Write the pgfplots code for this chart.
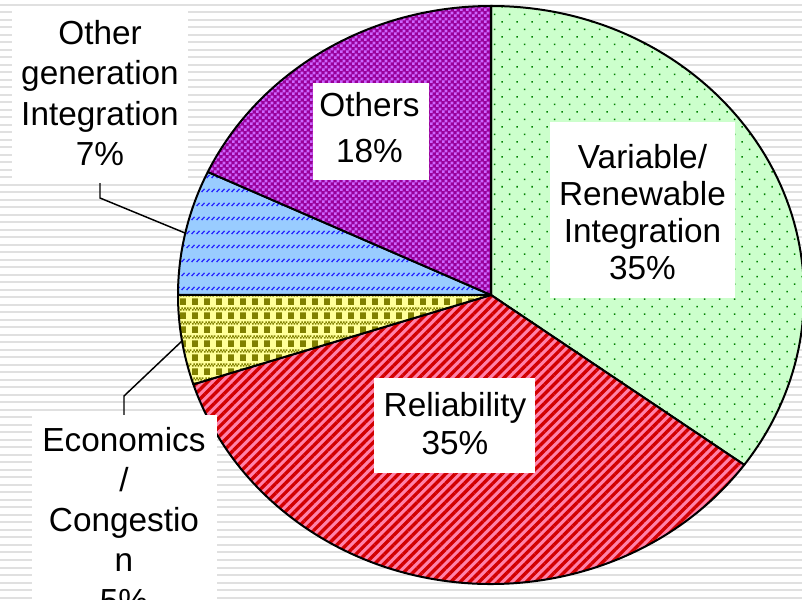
\documentclass[border=0pt]{standalone}
\usepackage{pgfplots}
\pgfplotsset{compat=1.18}
\usepackage{pgfplotstable}
\usepackage{fontspec}
\setmainfont{Liberation Sans}
\usetikzlibrary{patterns,patterns.meta}

\definecolor{greenbg}{RGB}{204,255,204}
\definecolor{greenfg}{RGB}{0,128,0}
\definecolor{pinkbg}{RGB}{255,130,170}
\definecolor{redfg}{RGB}{210,0,0}
\definecolor{yellowbg}{RGB}{255,255,153}
\definecolor{olivefg}{RGB}{128,128,0}
\definecolor{bluebg}{RGB}{153,204,255}
\definecolor{bluefg}{RGB}{40,40,255}
\definecolor{purplebg}{RGB}{153,0,153}
\definecolor{violetfg}{RGB}{204,102,255}
\definecolor{bgline}{RGB}{224,224,224}

\pgfdeclarepattern{
  name=olivecheck, type=uncolored,
  bottom left={\pgfqpoint{0pt}{0pt}},
  top right={\pgfqpoint{9pt}{10.5pt}},
  tile size={\pgfqpoint{9pt}{10.5pt}},
  code={
    \pgfpathrectangle{\pgfqpoint{0pt}{0pt}}{\pgfqpoint{4.8pt}{5.2pt}}
    \pgfpathrectangle{\pgfqpoint{0pt}{6.6pt}}{\pgfqpoint{1.3pt}{1.3pt}}
    \pgfpathrectangle{\pgfqpoint{2.25pt}{6.6pt}}{\pgfqpoint{1.3pt}{1.3pt}}
    \pgfpathrectangle{\pgfqpoint{4.5pt}{6.6pt}}{\pgfqpoint{1.3pt}{1.3pt}}
    \pgfpathrectangle{\pgfqpoint{6.75pt}{6.6pt}}{\pgfqpoint{1.3pt}{1.3pt}}
    \pgfpathrectangle{\pgfqpoint{1.125pt}{7.9pt}}{\pgfqpoint{1.3pt}{1.3pt}}
    \pgfpathrectangle{\pgfqpoint{3.375pt}{7.9pt}}{\pgfqpoint{1.3pt}{1.3pt}}
    \pgfpathrectangle{\pgfqpoint{5.625pt}{7.9pt}}{\pgfqpoint{1.3pt}{1.3pt}}
    \pgfpathrectangle{\pgfqpoint{7.875pt}{7.9pt}}{\pgfqpoint{1.3pt}{1.3pt}}
    \pgfusepath{fill}
  }
}
\pgfdeclarepattern{
  name=bluedash, type=uncolored,
  bottom left={\pgfqpoint{0pt}{0pt}},
  top right={\pgfqpoint{4pt}{10.5pt}},
  tile size={\pgfqpoint{4pt}{10.5pt}},
  code={
    \pgfsetlinewidth{1.1pt}
    \pgfpathmoveto{\pgfqpoint{0.5pt}{0.8pt}}
    \pgfpathlineto{\pgfqpoint{3pt}{3.3pt}}
    \pgfusepath{stroke}
  }
}
\pgfdeclarepattern{
  name=purplecheck, type=uncolored,
  bottom left={\pgfqpoint{0pt}{0pt}},
  top right={\pgfqpoint{4.6pt}{4.6pt}},
  tile size={\pgfqpoint{4.6pt}{4.6pt}},
  code={
    \pgfpathrectangle{\pgfqpoint{0pt}{0pt}}{\pgfqpoint{2.3pt}{2.3pt}}
    \pgfpathrectangle{\pgfqpoint{2.3pt}{2.3pt}}{\pgfqpoint{2.3pt}{2.3pt}}
    \pgfusepath{fill}
  }
}

\tikzset{
  slicebase/.style={draw=black, line width=1.5pt, line join=round},
  slice0/.style={slicebase, preaction={fill=greenbg}, pattern={Dots[angle=45,distance=7.95pt,radius=0.8pt]}, pattern color=greenfg},
  slice1/.style={slicebase, preaction={fill=pinkbg}, pattern={Lines[angle=45,distance=5pt,line width=2.5pt]}, pattern color=redfg},
  slice2/.style={slicebase, preaction={fill=yellowbg}, pattern=olivecheck, pattern color=olivefg},
  slice3/.style={slicebase, preaction={fill=bluebg}, pattern=bluedash, pattern color=bluefg},
  slice4/.style={slicebase, preaction={fill=purplebg}, pattern=purplecheck, pattern color=violetfg},
  lbl/.style={anchor=base, inner sep=0pt, font=\fontsize{25}{30}\selectfont},
  leader/.style={draw=black, line width=1.1pt},
}

% share of each category, in percent, clockwise from 12 o'clock
\pgfplotstableread{
label value
Variable/Renewable 35
Reliability 35
Economics/Congestion 5
OtherGeneration 7
Others 18
}\piedata

\begin{document}
\begin{tikzpicture}
\begin{axis}[
  at={(0,0)}, anchor=south west,
  width=601.5pt, height=449.25pt, scale only axis,
  xmin=0, xmax=802, ymin=0, ymax=599,
  hide axis, clip=true,
]
% slide background stripes
\pgfplotsinvokeforeach{0,...,79}{
  \draw[bgline, line width=1.5pt] (axis cs:0,{594-7.5*#1}) -- (axis cs:802,{594-7.5*#1});
}
% pie slices
\xdef\cum{0}
\pgfplotsinvokeforeach{0,...,4}{
  \pgfplotstablegetelem{#1}{value}\of\piedata
  \let\v\pgfplotsretval
  \pgfmathsetmacro{\a}{90-3.6*\cum}
  \pgfmathsetmacro{\b}{90-3.6*(\cum+\v)}
  \pgfmathsetmacro{\c}{\cum+\v}\xdef\cum{\c}
  \edef\temp{\noexpand\path[slice#1] (axis cs:491,304) -- ++(\a:234.75pt and 216.75pt) arc[start angle=\a, end angle=\b, x radius=234.75pt, y radius=216.75pt] -- cycle;}
  \temp
}
% leader lines
\draw[leader] (axis cs:100,416) -- (axis cs:100,401) -- (axis cs:185,366);
\draw[leader] (axis cs:124,184) -- (axis cs:124,203) -- (axis cs:182,258);
% label boxes
\fill[white] (axis cs:313,419) rectangle (axis cs:429,516);
\fill[white] (axis cs:550,301) rectangle (axis cs:735,477);
\fill[white] (axis cs:374,126) rectangle (axis cs:535,221);
\fill[white] (axis cs:12,416) rectangle (axis cs:188,592);
\fill[white] (axis cs:32,-60) rectangle (axis cs:217,184);
% labels
\node[lbl] at (axis cs:100,554.5) {Other};
\node[lbl] at (axis cs:100,514) {generation};
\node[lbl] at (axis cs:100,473.5) {Integration};
\node[lbl] at (axis cs:100,433) {7\%};
\node[lbl] at (axis cs:124,147) {Economics};
\node[lbl] at (axis cs:124,107) {/};
\node[lbl] at (axis cs:124,67) {Congestio};
\node[lbl] at (axis cs:124,27) {n};
\node[lbl] at (axis cs:124,-13) {5\%};
\node[lbl] at (axis cs:369.5,482.5) {Others};
\node[lbl] at (axis cs:369.5,436.5) {18\%};
\node[lbl] at (axis cs:642.5,430) {Variable/};
\node[lbl] at (axis cs:642.5,393) {Renewable};
\node[lbl] at (axis cs:642.5,356) {Integration};
\node[lbl] at (axis cs:642.5,319) {35\%};
\node[lbl] at (axis cs:455,182) {Reliability};
\node[lbl] at (axis cs:455,144) {35\%};
\end{axis}
\pgfresetboundingbox
\path[use as bounding box] (0,0) rectangle (601.5pt,449.25pt);
\end{tikzpicture}
\end{document}
